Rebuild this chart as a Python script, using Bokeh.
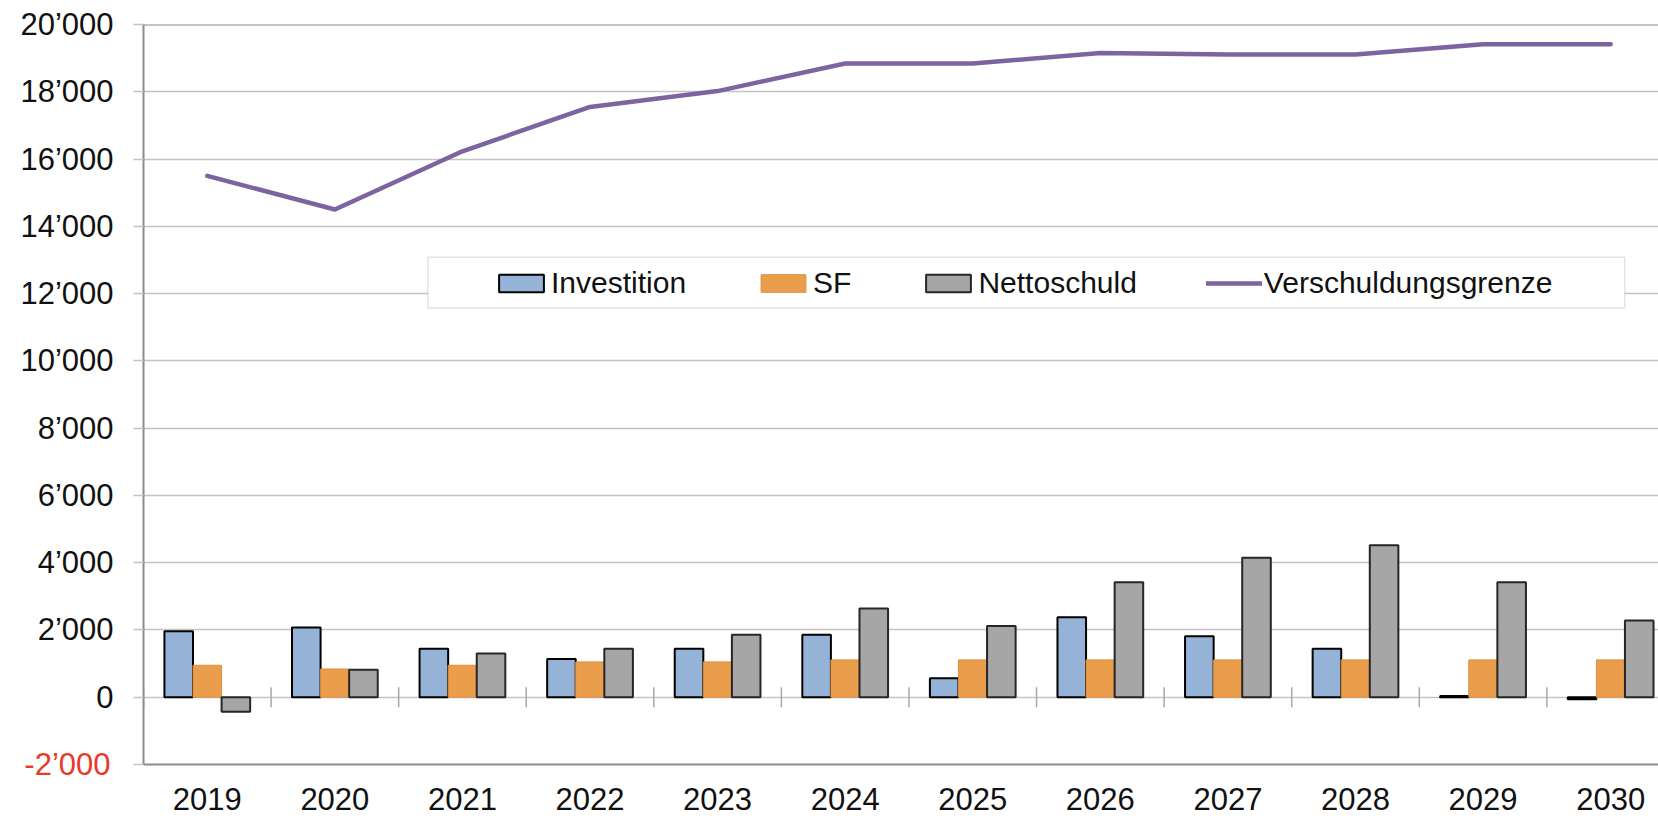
import numpy as np
from bokeh.plotting import figure
from bokeh.models import (Range1d, FixedTicker, NumeralTickFormatter, Legend, LegendItem,
                          BoxAnnotation, Span, LinearAxis, ColumnDataSource)
from bokeh.transform import dodge
from bokeh.embed import file_html
from bokeh.resources import INLINE

# ---- data ----
years = [2019, 2020, 2021, 2022, 2023, 2024, 2025, 2026, 2027, 2028, 2029, 2030]
investition = [1960, 2070, 1440, 1140, 1440, 1860, 565, 2380, 1810, 1440, 40, -60]
sf = [950, 840, 950, 1050, 1050, 1110, 1110, 1110, 1110, 1110, 1110, 1110]
nettoschuld = [-430, 820, 1300, 1440, 1860, 2640, 2120, 3420, 4150, 4520, 3420, 2280]
verschuldungsgrenze = [15500, 14500, 16230, 17550, 18020, 18840, 18840, 19150, 19110, 19110, 19410, 19410]
y_ticks = list(range(-2000, 20001, 2000))
series_names = ["Investition", "SF", "Nettoschuld", "Verschuldungsgrenze"]


def fmt(v):
    return f"{v:,}".replace(",", "\u2019")


FONT = "Liberation Sans"
GRID = "#c4c4c4"
FRAME = "#8c8c8c"
TXT = "#111111"

src = ColumnDataSource(dict(year=years, inv=investition, sf=sf, net=nettoschuld,
                            grenze=verschuldungsgrenze))

p = figure(width=1658, height=819, output_backend="svg", toolbar_location=None,
           x_range=Range1d(2018.5, 2030.375), y_range=Range1d(-2000, 20000),
           min_border_left=143, min_border_right=0, min_border_top=24, min_border_bottom=55)
p.outline_line_color = None
p.background_fill_color = "white"
p.border_fill_color = "white"

# grid
p.xgrid.visible = False
p.ygrid.ticker = FixedTicker(ticks=y_ticks)
p.ygrid.grid_line_color = GRID
p.ygrid.grid_line_width = 1.5

# y axis (black labels; the negative one is drawn by a second, red axis)
p.yaxis.ticker = FixedTicker(ticks=y_ticks)
p.yaxis.major_label_overrides = {t: ("" if t < 0 else fmt(t)) for t in y_ticks}
p.yaxis.major_label_text_font = FONT
p.yaxis.major_label_text_font_size = "31px"
p.yaxis.major_label_text_color = TXT
p.yaxis.major_label_standoff = 20
p.yaxis.major_tick_out = 10
p.yaxis.major_tick_in = 0
p.yaxis.major_tick_line_color = GRID
p.yaxis.major_tick_line_width = 1.5
p.yaxis.minor_tick_line_color = None
p.yaxis.axis_line_color = FRAME
p.yaxis.axis_line_width = 2

neg_ticks = [t for t in y_ticks if t < 0]
red_axis = LinearAxis(ticker=FixedTicker(ticks=neg_ticks),
                      major_label_overrides={t: fmt(t) for t in neg_ticks},
                      major_label_text_font=FONT, major_label_text_font_size="31px",
                      major_label_text_color="#e8392a", major_label_standoff=-93,
                      major_tick_out=0, major_tick_in=0, minor_tick_line_color=None,
                      axis_line_color=None)
p.add_layout(red_axis, "left")

# x axis
p.xaxis.ticker = FixedTicker(ticks=years)
p.xaxis.formatter = NumeralTickFormatter(format="0")
p.xaxis.major_label_text_font = FONT
p.xaxis.major_label_text_font_size = "31px"
p.xaxis.major_label_text_color = TXT
p.xaxis.major_label_standoff = 23
p.xaxis.major_tick_out = 0
p.xaxis.major_tick_in = 0
p.xaxis.minor_tick_line_color = None
p.xaxis.axis_line_color = FRAME
p.xaxis.axis_line_width = 2

# top frame line
p.add_layout(Span(location=y_ticks[-1], dimension="width", line_color=FRAME, line_width=2))

# category separators on the zero line
separators = [y - 0.5 for y in years] + [years[-1] + 0.5]
p.scatter(x=separators, y=[0] * len(separators), marker="dash", size=20, angle=np.pi / 2,
          line_color="#a8a8a8", line_width=1.5)

W = 0.224
r_inv = p.vbar(x=dodge("year", -W, range=p.x_range), top="inv", bottom=0, width=W, source=src,
               fill_color="#95b3d7", line_color="#000000", line_width=2)
r_sf = p.vbar(x=dodge("year", 0, range=p.x_range), top="sf", bottom=0, width=W, source=src,
              fill_color="#ea9d4b", line_color="#dc8f3f", line_width=1)
r_net = p.vbar(x=dodge("year", W, range=p.x_range), top="net", bottom=0, width=W, source=src,
               fill_color="#a6a6a6", line_color="#262626", line_width=2)
r_line = p.line(x="year", y="grenze", source=src, line_color="#7d63a0", line_width=4.5,
                line_cap="round", line_join="round")

# legend frame (white box behind the legend)
p.add_layout(BoxAnnotation(left=2020.728, right=2030.11, top=13084, bottom=11570,
                           fill_color="white", fill_alpha=1.0,
                           line_color="#a6a6a6", line_width=1.5))

legend = Legend(items=[LegendItem(label=series_names[0], renderers=[r_inv]),
                       LegendItem(label=series_names[1], renderers=[r_sf]),
                       LegendItem(label=series_names[2], renderers=[r_net]),
                       LegendItem(label=series_names[3], renderers=[r_line])],
                orientation="horizontal", location=(350, 464), padding=0, margin=0,
                spacing=69, glyph_width=56, glyph_height=22, label_standoff=2,
                label_text_font=FONT, label_text_font_size="30px", label_text_color=TXT,
                label_height=34, border_line_alpha=0, background_fill_alpha=0)
p.add_layout(legend)

open("out.html", "w").write(file_html(p, INLINE))
